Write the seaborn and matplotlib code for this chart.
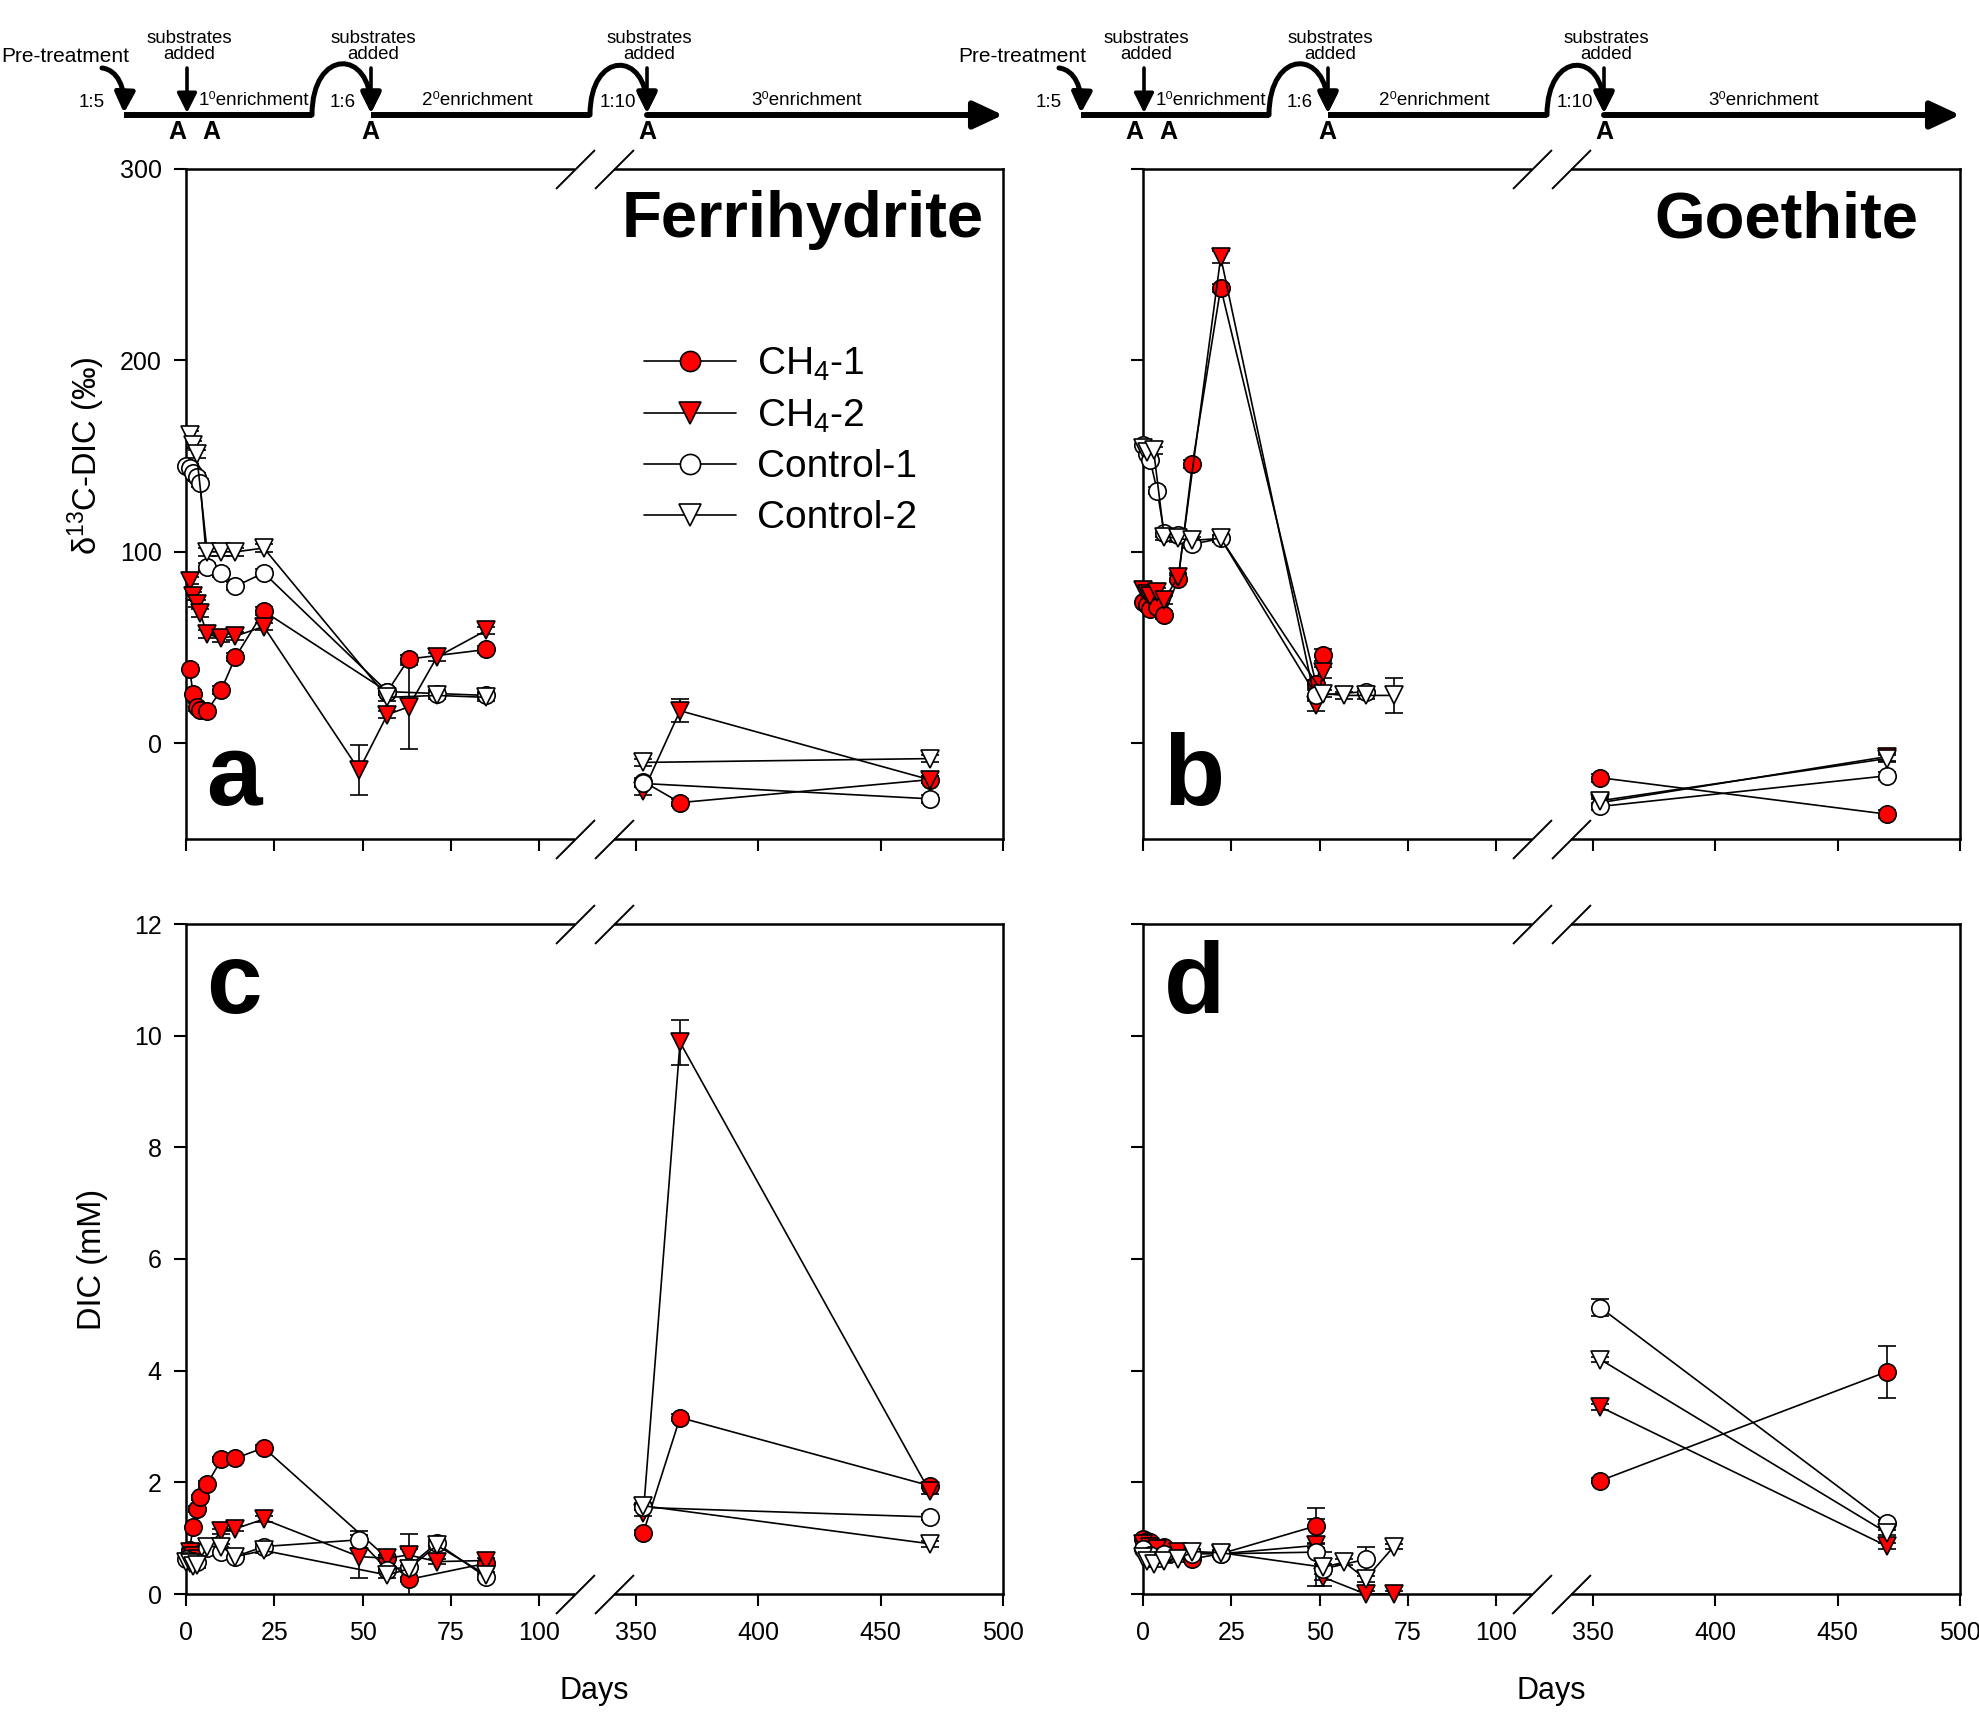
import numpy as np
import pandas as pd
import matplotlib
matplotlib.use("Agg")
import matplotlib.pyplot as plt
import seaborn as sns
from matplotlib.lines import Line2D
from matplotlib.patches import FancyArrowPatch
from matplotlib.path import Path
from matplotlib.transforms import blended_transform_factory

# ---------------- data ----------------
SERIES_LABELS = ["CH$_4$-1", "CH$_4$-2", "Control-1", "Control-2"]

# Panel a: Ferrihydrite, delta13C-DIC (permil)
A_CH4_1_DAY = [1, 2, 3, 4, 6, 10, 14, 22, 57, 63, 85, 353, 368, 470]
A_CH4_1_VAL = [39, 26, 19, 17.5, 17, 28, 45, 69, 27, 44, 49, -20, -31, -19]
A_CH4_1_ERR = [2, 2, 2, 2, 2, 2, 2, 2, 2, 2, 2, 2, 2, 2]
A_CH4_2_DAY = [1, 2, 3, 4, 6, 10, 14, 22, 49, 57, 63, 71, 85, 353, 368, 470]
A_CH4_2_VAL = [85, 77, 73, 68, 57, 55, 56, 61, -14, 15, 19, 45, 59, -25, 17, -19]
A_CH4_2_ERR = [2, 2, 2, 2, 2, 2, 2, 2, 13, 2, 22, 2, 2, 2, 6, 2]
A_CTL_1_DAY = [0, 1, 2, 3, 4, 6, 10, 14, 22, 57, 71, 85, 353, 470]
A_CTL_1_VAL = [145, 144, 141, 139, 136, 92, 89, 82, 89, 27, 26, 25, -21, -29]
A_CTL_1_ERR = [2, 2, 2, 2, 2, 2, 2, 2, 2, 2, 2, 2, 2, 2]
A_CTL_2_DAY = [1, 2, 3, 6, 10, 14, 22, 57, 71, 85, 353, 470]
A_CTL_2_VAL = [161, 156, 151, 100, 100, 100, 102, 24, 25, 24, -10, -8]
A_CTL_2_ERR = [2, 2, 2, 2, 2, 2, 2, 2, 2, 2, 2, 2]

# Panel b: Goethite, delta13C-DIC (permil)
B_CH4_1_DAY = [0, 1, 2, 4, 6, 10, 14, 22, 49, 51, 353, 470]
B_CH4_1_VAL = [74, 72, 70, 71, 67, 86, 146, 238, 31, 46, -18, -37]
B_CH4_1_ERR = [2, 2, 2, 2, 2, 2, 2, 2, 2, 3, 2, 2]
B_CH4_2_DAY = [0, 1, 2, 4, 6, 10, 22, 49, 51, 353, 470]
B_CH4_2_VAL = [80, 78, 77, 79, 75, 87, 254, 20, 37, -31, -7]
B_CH4_2_ERR = [2, 2, 2, 2, 2, 2, 3, 3, 3, 2, 2]
B_CTL_1_DAY = [0, 1, 2, 4, 6, 10, 14, 22, 49, 63, 353, 470]
B_CTL_1_VAL = [156, 151, 148, 132, 110, 109, 104, 107, 25, 27, -33, -17]
B_CTL_1_ERR = [2, 2, 2, 2, 2, 2, 2, 2, 3, 2, 2, 2]
B_CTL_2_DAY = [0, 1, 3, 6, 10, 14, 22, 51, 57, 63, 71, 353, 470]
B_CTL_2_VAL = [154, 152, 153, 108, 107, 106, 107, 26, 25, 25, 25, -30, -8]
B_CTL_2_ERR = [2, 2, 2, 2, 2, 2, 2, 2, 2, 2, 9, 2, 2]

# Panel c: Ferrihydrite, DIC (mM)
C_CH4_1_DAY = [1, 2, 3, 4, 6, 10, 14, 22, 57, 63, 85, 353, 368, 470]
C_CH4_1_VAL = [0.79, 1.20, 1.52, 1.73, 1.97, 2.41, 2.43, 2.62, 0.64, 0.26, 0.55, 1.10, 3.16, 1.94]
C_CH4_1_ERR = [0.05, 0.05, 0.05, 0.05, 0.05, 0.05, 0.05, 0.05, 0.05, 0.05, 0.05, 0.05, 0.06, 0.05]
C_CH4_2_DAY = [1, 2, 3, 10, 14, 22, 49, 57, 63, 71, 85, 353, 368, 470]
C_CH4_2_VAL = [0.75, 0.68, 0.62, 1.12, 1.17, 1.34, 0.67, 0.64, 0.70, 0.58, 0.60, 1.45, 9.88, 1.84]
C_CH4_2_ERR = [0.05, 0.05, 0.05, 0.05, 0.05, 0.05, 0.38, 0.05, 0.10, 0.05, 0.05, 0.05, 0.40, 0.05]
C_CTL_1_DAY = [0, 2, 3, 6, 10, 14, 22, 49, 57, 63, 71, 85, 353, 470]
C_CTL_1_VAL = [0.62, 0.60, 0.58, 0.82, 0.75, 0.67, 0.85, 0.97, 0.43, 0.49, 0.91, 0.30, 1.55, 1.38]
C_CTL_1_ERR = [0.05, 0.05, 0.05, 0.05, 0.05, 0.05, 0.05, 0.15, 0.05, 0.58, 0.05, 0.05, 0.05, 0.05]
C_CTL_2_DAY = [0, 1, 2, 3, 6, 10, 14, 22, 57, 63, 71, 85, 353, 470]
C_CTL_2_VAL = [0.58, 0.55, 0.50, 0.52, 0.85, 0.85, 0.67, 0.78, 0.34, 0.45, 0.87, 0.34, 1.58, 0.90]
C_CTL_2_ERR = [0.05, 0.05, 0.05, 0.05, 0.05, 0.05, 0.05, 0.05, 0.05, 0.05, 0.05, 0.05, 0.05, 0.05]

# Panel d: Goethite, DIC (mM)
D_CH4_1_DAY = [0, 1, 2, 6, 14, 22, 49, 353, 470]
D_CH4_1_VAL = [0.98, 0.95, 0.93, 0.85, 0.63, 0.72, 1.22, 2.03, 3.98]
D_CH4_1_ERR = [0.05, 0.05, 0.05, 0.05, 0.05, 0.05, 0.32, 0.05, 0.47]
D_CH4_2_DAY = [0, 2, 4, 10, 22, 49, 51, 63, 71, 353, 470]
D_CH4_2_VAL = [0.90, 0.85, 0.80, 0.75, 0.72, 0.87, 0.30, 0.0, 0.0, 3.35, 0.86]
D_CH4_2_ERR = [0.05, 0.05, 0.05, 0.05, 0.05, 0.05, 0.05, 0.05, 0.05, 0.05, 0.05]
D_CTL_1_DAY = [0, 2, 6, 14, 22, 49, 51, 63, 353, 470]
D_CTL_1_VAL = [0.80, 0.70, 0.72, 0.72, 0.72, 0.75, 0.45, 0.62, 5.13, 1.27]
D_CTL_1_ERR = [0.05, 0.05, 0.05, 0.05, 0.05, 0.60, 0.30, 0.22, 0.15, 0.05]
D_CTL_2_DAY = [0, 1, 3, 6, 10, 14, 22, 51, 57, 63, 71, 353, 470]
D_CTL_2_VAL = [0.66, 0.60, 0.54, 0.60, 0.62, 0.76, 0.74, 0.48, 0.57, 0.27, 0.85, 4.20, 1.10]
D_CTL_2_ERR = [0.05, 0.05, 0.05, 0.05, 0.05, 0.05, 0.05, 0.05, 0.05, 0.05, 0.05, 0.05, 0.05]

X_TICKS = [0, 25, 50, 75, 100, 350, 400, 450, 500]
ISO_TICKS = [0, 100, 200, 300]
DIC_TICKS = [0, 2, 4, 6, 8, 10, 12]

# ---------------- style ----------------
sns.set_theme(style="ticks")
plt.rcParams["font.family"] = ["Liberation Sans", "DejaVu Sans"]
plt.rcParams["mathtext.fontset"] = "custom"
plt.rcParams["mathtext.rm"] = "Liberation Sans"
plt.rcParams["mathtext.it"] = "Liberation Sans:italic"
plt.rcParams["mathtext.bf"] = "Liberation Sans:bold"
plt.rcParams["text.color"] = "black"
plt.rcParams["axes.labelcolor"] = "black"
plt.rcParams["xtick.color"] = "black"
plt.rcParams["ytick.color"] = "black"
plt.rcParams["axes.edgecolor"] = "black"

STYLES = [
    dict(marker="o", ms=12.5, mfc="#ff0000"),
    dict(marker="v", ms=13.5, mfc="#ff0000"),
    dict(marker="o", ms=12.5, mfc="white"),
    dict(marker="v", ms=13.5, mfc="white"),
]

# broken x axis (0-110 | 341-500) as a piecewise-linear scale
BREAK_LO, BREAK_HI, X_MAX = 110.0, 341.0, 500.0
K1 = 388.6 / BREAK_LO
K2 = 39.4 / (BREAK_HI - BREAK_LO)
K3 = 389.0 / (X_MAX - BREAK_HI)
P1 = BREAK_LO * K1
P2 = P1 + (BREAK_HI - BREAK_LO) * K2


def fwd(x):
    x = np.asarray(x, dtype=float)
    return np.where(x <= BREAK_LO, x * K1,
                    np.where(x <= BREAK_HI, P1 + (x - BREAK_LO) * K2,
                             P2 + (x - BREAK_HI) * K3))


def inv(p):
    p = np.asarray(p, dtype=float)
    return np.where(p <= P1, p / K1,
                    np.where(p <= P2, BREAK_LO + (p - P1) / K2,
                             BREAK_HI + (p - P2) / K3))


W, H = 1979, 1712
fig = plt.figure(figsize=(W / 100, H / 100), dpi=100)
fig.patch.set_facecolor("white")


def add_ax(l, r, t, b):
    return fig.add_axes([l / W, 1 - b / H, (r - l) / W, (b - t) / H])


ax_a = add_ax(186, 1003, 169, 839)
ax_b = add_ax(1143, 1960, 169, 839)
ax_c = add_ax(186, 1003, 924, 1594)
ax_d = add_ax(1143, 1960, 924, 1594)


def draw_panel(ax, series, ylim, yticks, capsize):
    ax.set_xscale("function", functions=(fwd, inv))
    for (days, vals, errs), st in zip(series, STYLES):
        df = pd.DataFrame({"day": days, "val": vals, "err": errs})
        df["seg"] = np.where(df["day"] > BREAK_LO, 1, 0)
        ax.errorbar(df["day"], df["val"], yerr=df["err"], fmt="none",
                    ecolor="black", elinewidth=1.2, capsize=capsize,
                    capthick=1.2, zorder=2)
        sns.lineplot(data=df, x="day", y="val", units="seg", estimator=None,
                     ax=ax, color="black", linewidth=1.2, marker=st["marker"],
                     markersize=st["ms"], markerfacecolor=st["mfc"],
                     markeredgecolor="black", markeredgewidth=1.2,
                     clip_on=False, legend=False, zorder=3)
    ax.set_xlim(0, X_MAX)
    ax.set_ylim(*ylim)
    ax.set_xticks(X_TICKS)
    ax.set_yticks(yticks)
    ax.set_xlabel("")
    ax.set_ylabel("")
    for sp in ax.spines.values():
        sp.set_visible(True)
        sp.set_linewidth(1.8)
        sp.set_color("black")
    ax.tick_params(axis="both", direction="out", length=8.6, width=1.5,
                   colors="black", labelsize=18, top=False, right=False)
    ax.tick_params(axis="y", pad=9)
    ax.tick_params(axis="x", pad=11)
    ax.grid(False)
    # axis break marks
    tr = blended_transform_factory(ax.transData, ax.transAxes)
    for yb in (0, 1):
        ax.plot([BREAK_LO, BREAK_HI], [yb, yb], transform=tr, color="white",
                lw=6, clip_on=False, zorder=5, solid_capstyle="butt")
        for xb in (BREAK_LO, BREAK_HI):
            ax.plot([xb], [yb], transform=tr, marker=[(-1, -1), (1, 1)],
                    markersize=28, markeredgewidth=1.4, color="black",
                    clip_on=False, zorder=6)


draw_panel(ax_a, [(A_CH4_1_DAY, A_CH4_1_VAL, A_CH4_1_ERR),
                  (A_CH4_2_DAY, A_CH4_2_VAL, A_CH4_2_ERR),
                  (A_CTL_1_DAY, A_CTL_1_VAL, A_CTL_1_ERR),
                  (A_CTL_2_DAY, A_CTL_2_VAL, A_CTL_2_ERR)],
           (-50, 300), ISO_TICKS, 6.5)
draw_panel(ax_b, [(B_CH4_1_DAY, B_CH4_1_VAL, B_CH4_1_ERR),
                  (B_CH4_2_DAY, B_CH4_2_VAL, B_CH4_2_ERR),
                  (B_CTL_1_DAY, B_CTL_1_VAL, B_CTL_1_ERR),
                  (B_CTL_2_DAY, B_CTL_2_VAL, B_CTL_2_ERR)],
           (-50, 300), ISO_TICKS, 6.5)
draw_panel(ax_c, [(C_CH4_1_DAY, C_CH4_1_VAL, C_CH4_1_ERR),
                  (C_CH4_2_DAY, C_CH4_2_VAL, C_CH4_2_ERR),
                  (C_CTL_1_DAY, C_CTL_1_VAL, C_CTL_1_ERR),
                  (C_CTL_2_DAY, C_CTL_2_VAL, C_CTL_2_ERR)],
           (0, 12), DIC_TICKS, 6.5)
draw_panel(ax_d, [(D_CH4_1_DAY, D_CH4_1_VAL, D_CH4_1_ERR),
                  (D_CH4_2_DAY, D_CH4_2_VAL, D_CH4_2_ERR),
                  (D_CTL_1_DAY, D_CTL_1_VAL, D_CTL_1_ERR),
                  (D_CTL_2_DAY, D_CTL_2_VAL, D_CTL_2_ERR)],
           (0, 12), DIC_TICKS, 6.5)

for ax in (ax_a, ax_b):
    ax.tick_params(axis="x", labelbottom=False)
for ax in (ax_b, ax_d):
    ax.tick_params(axis="y", labelleft=False)

# axis labels
ax_a.set_ylabel("δ$^{13}$C-DIC (‰)", fontsize=23.5, color="black")
ax_a.yaxis.set_label_coords(-0.097, 0.572)
ax_c.set_ylabel("DIC (mM)", fontsize=23.5, color="black")
ax_c.yaxis.set_label_coords(-0.095, 0.5)
for ax in (ax_c, ax_d):
    ax.set_xlabel("Days", fontsize=22, color="black")
    ax.xaxis.set_label_coords(0.5, -0.123)

# titles and panel letters
ax_a.text(0.977, 0.898, "Ferrihydrite", transform=ax_a.transAxes, ha="right",
          va="baseline", fontsize=47, fontweight="bold", color="black")
ax_b.text(0.949, 0.898, "Goethite", transform=ax_b.transAxes, ha="right",
          va="baseline", fontsize=47, fontweight="bold", color="black")
for ax, letter, y in ((ax_a, "a", 0.051), (ax_b, "b", 0.051),
                      (ax_c, "c", 0.867), (ax_d, "d", 0.867)):
    ax.text(0.025, y, letter, transform=ax.transAxes, ha="left",
            va="baseline", fontsize=72, fontweight="bold", color="black")

# legend
handles = [Line2D([], [], color="black", lw=1.2, marker=st["marker"],
                  markersize=st["ms"] + 2, markerfacecolor=st["mfc"],
                  markeredgecolor="black", markeredgewidth=1.2)
           for st in STYLES]
leg = ax_a.legend(handles, SERIES_LABELS, loc="upper left",
                  bbox_to_anchor=(0.5606, 0.737), frameon=False, fontsize=28,
                  handlelength=2.36, handletextpad=0.54, labelspacing=0.38,
                  borderpad=0, borderaxespad=0)
for t in leg.get_texts():
    t.set_color("black")

# ---------------- timeline strip on top ----------------
ov = fig.add_axes([0, 0, 1, 1])
ov.set_xlim(0, W)
ov.set_ylim(H, 0)
ov.set_axis_off()
ov.patch.set_visible(False)

Y0 = 115
LW_MAIN = 4.3
TXT = dict(ha="center", va="baseline", color="black")


def arrow(p0, p1, lw, hl=0.6, hw=0.3, path=None):
    style = f"-|>,head_length={hl},head_width={hw}"
    if path is not None:
        pa = FancyArrowPatch(path=path, arrowstyle=style, mutation_scale=20,
                             lw=lw, color="black", shrinkA=0, shrinkB=0)
    else:
        pa = FancyArrowPatch(p0, p1, arrowstyle=style, mutation_scale=20,
                             lw=lw, color="black", shrinkA=0, shrinkB=0)
    ov.add_patch(pa)


def hump(x0, x1, ctrl_y):
    verts = [(x0, Y0), (x0, ctrl_y), (x1, ctrl_y), (x1, Y0 - 2)]
    codes = [Path.MOVETO, Path.CURVE4, Path.CURVE4, Path.CURVE4]
    arrow(None, None, 3.6, hl=0.6, hw=0.3, path=Path(verts, codes))


def draw_timeline(dx):
    ov.plot([124 + dx, 312 + dx], [Y0, Y0], color="black", lw=LW_MAIN,
            solid_capstyle="butt")
    ov.plot([371 + dx, 590 + dx], [Y0, Y0], color="black", lw=LW_MAIN,
            solid_capstyle="butt")
    hump(312 + dx, 371 + dx, 48)
    hump(590 + dx, 647 + dx, 50)
    arrow((647 + dx, Y0), (1003 + dx, Y0), LW_MAIN, hl=0.9, hw=0.42)
    # 1:5 curved arrow from pre-treatment
    verts = [(102 + dx, 68), (118 + dx, 70), (125 + dx, 88), (124 + dx, 113)]
    codes = [Path.MOVETO, Path.CURVE4, Path.CURVE4, Path.CURVE4]
    arrow(None, None, 3.6, path=Path(verts, codes))
    # substrate addition arrows
    for xs in (187, 371, 647):
        arrow((xs + dx, 68), (xs + dx, 113), 2.6)
        ov.text(xs + dx + 2, 43, "substrates", fontsize=13.4, **TXT)
        ov.text(xs + dx + 2, 59, "added", fontsize=13.4, **TXT)
    ov.text(65 + dx, 62, "Pre-treatment", fontsize=15, **TXT)
    ov.text(92 + dx, 107, "1:5", fontsize=13.5, **TXT)
    ov.text(343 + dx, 107, "1:6", fontsize=13.5, **TXT)
    ov.text(618 + dx, 107, "1:10", fontsize=13.5, **TXT)
    ov.text(254 + dx, 105, "1⁰enrichment", fontsize=13.5, **TXT)
    ov.text(477 + dx, 105, "2⁰enrichment", fontsize=13.5, **TXT)
    ov.text(807 + dx, 105, "3⁰enrichment", fontsize=13.5, **TXT)
    for xa in (177, 211, 370, 647):
        ov.text(xa + dx, 139, "A", fontsize=18, fontweight="bold", **TXT)


draw_timeline(0)
draw_timeline(957)

fig.savefig("out.png", dpi=100, facecolor="white")
